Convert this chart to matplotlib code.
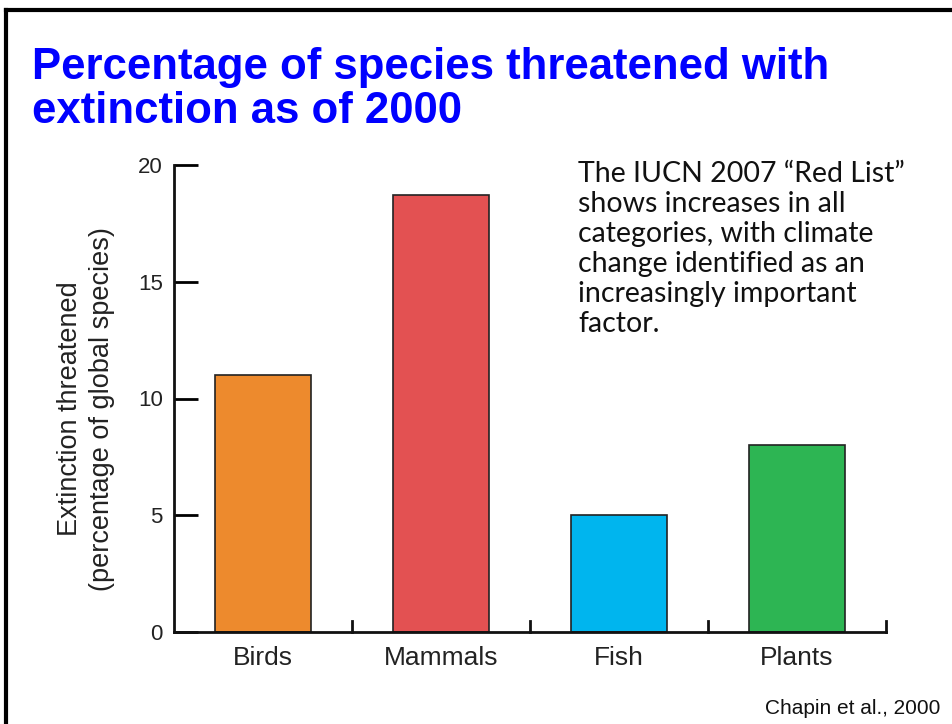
import matplotlib.pyplot as plt
from matplotlib.lines import Line2D

# data
categories = ['Birds', 'Mammals', 'Fish', 'Plants']
percent_threatened = [11.0, 18.7, 5.0, 8.0]
bar_colors = ['#ED8A2D', '#E35152', '#00B5EE', '#2DB553']
y_ticks = [0, 5, 10, 15, 20]

title = 'Percentage of species threatened with\nextinction as of 2000'
ylabel = 'Extinction threatened\n(percentage of global species)'
note = ('The IUCN 2007 \u201cRed List\u201d\nshows increases in all\n'
        'categories, with climate\nchange identified as an\n'
        'increasingly important\nfactor.')
source = 'Chapin et al., 2000'

plt.rcParams['font.family'] = ['Liberation Sans', 'DejaVu Sans']

fig = plt.figure(figsize=(9.52, 7.24), dpi=100)
ax = fig.add_axes([174 / 952, 1 - 632 / 724, 712 / 952, 467 / 724])

x = list(range(len(categories)))
ax.bar(x, percent_threatened, width=0.54, color=bar_colors,
       edgecolor='#222222', linewidth=1.2, zorder=2)

ax.set_xlim(-0.5, len(categories) - 0.5)
ax.set_ylim(0, 20)
ax.set_yticks(y_ticks)
ax.tick_params(axis='y', direction='in', length=17, width=2, pad=8,
               labelsize=16, labelcolor='#222222')
ax.set_xticks(x)
ax.set_xticklabels(categories)
ax.tick_params(axis='x', length=0, pad=10, labelsize=19, labelcolor='#222222')

# small upward ticks between categories
for b in [i + 0.5 for i in x]:
    ax.plot([b, b], [0, 0.45], color='#111111', lw=2, clip_on=False, zorder=3)

for side in ['top', 'right']:
    ax.spines[side].set_visible(False)
for side in ['left', 'bottom']:
    ax.spines[side].set_linewidth(2)
    ax.spines[side].set_color('#111111')

fig.text(86 / 952, 1 - 409 / 724, ylabel, rotation=90, fontsize=19.5,
         color='#222222', ha='center', va='center', linespacing=1.3)

fig.text(32 / 952, 1 - 47 / 724, title, fontsize=31.5, fontweight='bold',
         color='#0000FF', va='top', ha='left', linespacing=1.1)

fig.text(578 / 952, 1 - 161 / 724, note, fontsize=20.5, color='#111111',
         va='top', ha='left', linespacing=1.19, family=['Lato', 'DejaVu Sans'])

fig.text(940 / 952, 1 - 718 / 724, source, fontsize=15, color='#111111',
         ha='right', va='bottom')

# slide frame: top and left edges
fig.add_artist(Line2D([6 / 952, 1], [1 - 10 / 724, 1 - 10 / 724],
                      color='black', lw=3, transform=fig.transFigure))
fig.add_artist(Line2D([6 / 952, 6 / 952], [0, 1 - 10 / 724],
                      color='black', lw=3, transform=fig.transFigure))

fig.savefig('out.png', dpi=100)
